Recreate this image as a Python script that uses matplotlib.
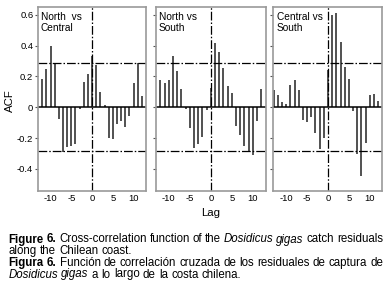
import numpy as np
import matplotlib
matplotlib.use("Agg")
import matplotlib.pyplot as plt

plt.rcParams['font.family'] = ['Liberation Sans Narrow', 'Liberation Sans', 'DejaVu Sans']

# data
lags_a = np.arange(-12, 13)
lags_c = np.arange(-13, 13)
north_central = [0.18, 0.247, 0.394, 0.288, -0.078, -0.288, -0.255, -0.249, -0.238, -0.013,
                 0.165, 0.216, 0.329, 0.275, 0.097, 0.013, -0.197, -0.206, -0.11, -0.087,
                 -0.13, -0.054, 0.16, 0.288, 0.074]
north_south = [0.177, 0.158, 0.175, 0.335, 0.232, 0.121, -0.013, -0.134, -0.262, -0.24,
               -0.195, -0.015, 0.123, 0.416, 0.359, 0.253, 0.139, 0.095, -0.121, -0.182,
               -0.251, -0.286, -0.307, -0.091, 0.117]
central_south = [0.114, 0.08, 0.037, 0.022, 0.145, 0.178, 0.112, -0.082, -0.097, -0.065,
                 -0.17, -0.27, -0.2, 0.24, 0.6, 0.613, 0.424, 0.262, 0.184, -0.026,
                 -0.303, -0.446, -0.229, 0.078, 0.084, 0.043]
conf = 0.285
titles = ["North  vs\nCentral", "North vs\nSouth", "Central vs\nSouth"]
series = [(lags_a, north_central), (lags_a, north_south), (lags_c, central_south)]
yticks = [-0.4, -0.2, 0, 0.2, 0.4, 0.6]
ytick_labels = ["-0.4", "-0.2", "0", "0.2", "0.4", "0.6"]
xticks = [-10, -5, 0, 5, 10]

W, H = 391, 305
fig = plt.figure(figsize=(W / 100, H / 100), dpi=100)

# panel boxes in pixels: left, right
boxes = [(37.7, 146.0), (155.7, 265.5), (273.3, 382.3)]
top, bottom = 7.0, 190.5
dd = (0, (7, 1.6, 1.2, 1.6))

for i, ((l, r), (x, y)) in enumerate(zip(boxes, series)):
    ax = fig.add_axes([l / W, 1 - bottom / H, (r - l) / W, (bottom - top) / H])
    ax.vlines(x, 0, y, color='#3c3c3c', lw=1.25)
    ax.axhline(0, color='black', lw=1.1)
    ax.axhline(conf, color='black', lw=0.9, ls=dd)
    ax.axhline(-conf, color='black', lw=0.9, ls=dd)
    ax.axvline(0, color='black', lw=0.9, ls=dd)
    ax.set_xlim(-13.1, 13.0)
    ax.set_ylim(-0.54, 0.65)
    for s in ax.spines.values():
        s.set_color('#9a9a9a')
        s.set_linewidth(1.2)
    ax.set_yticks(yticks)
    ax.set_xticks(xticks)
    ax.set_xticklabels([str(t) for t in xticks])
    ax.tick_params(axis='x', length=0, pad=2.5, labelsize=6.8)
    ax.tick_params(axis='y', length=2.2, width=0.8, color='#555555', pad=1, labelsize=6.8)
    if i == 0:
        ax.set_yticklabels(ytick_labels)
    else:
        ax.set_yticklabels([])
    ax.text(0.03, 0.975, titles[i], transform=ax.transAxes, ha='left', va='top',
            fontsize=7.3, linespacing=1.15)

fig.text(9.5 / W, 1 - 101 / H, "ACF", rotation=90, ha='center', va='center', fontsize=8.2)
fig.text(211 / W, 1 - 213 / H, "Lag", ha='center', va='center', fontsize=8.2)

# caption, word by word so styles can mix and lines can be justified
cap_lines = [
    ([("Figure", 'bold', 'normal'), ("6.", 'bold', 'normal')] +
     [(w, 'normal', 'normal') for w in "Cross-correlation function of the".split()] +
     [("Dosidicus", 'normal', 'italic'), ("gigas", 'normal', 'italic')] +
     [(w, 'normal', 'normal') for w in "catch residuals".split()], True),
    ([(w, 'normal', 'normal') for w in "along the Chilean coast.".split()], False),
    ([("Figura", 'bold', 'normal'), ("6.", 'bold', 'normal')] +
     [(w, 'normal', 'normal') for w in "Función de correlación cruzada de los residuales de captura de".split()], True),
    ([("Dosidicus", 'normal', 'italic'), ("gigas", 'normal', 'italic')] +
     [(w, 'normal', 'normal') for w in "a lo largo de la costa chilena.".split()], False),
]
baselines = [242.5, 254.2, 265.9, 277.5]
x0, x1 = 8.5, 383.0
fs = 8.3
renderer = fig.canvas.get_renderer()

probe = fig.text(0, 0, "a a", fontsize=fs)
w2 = probe.get_window_extent(renderer).width
probe.set_text("aa")
space = w2 - probe.get_window_extent(renderer).width
probe.remove()

for (words, justify), yb in zip(cap_lines, baselines):
    objs = []
    widths = []
    for w, wt, st in words:
        t = fig.text(0, 1 - yb / H, w, fontsize=fs, fontweight=wt, fontstyle=st,
                     ha='left', va='baseline')
        objs.append(t)
        widths.append(t.get_window_extent(renderer).width)
    if justify:
        gap = (x1 - x0 - sum(widths)) / (len(words) - 1)
    else:
        gap = space
    xp = x0
    for t, wd in zip(objs, widths):
        t.set_x(xp / W)
        xp += wd + gap

fig.savefig("out.png", dpi=100)
